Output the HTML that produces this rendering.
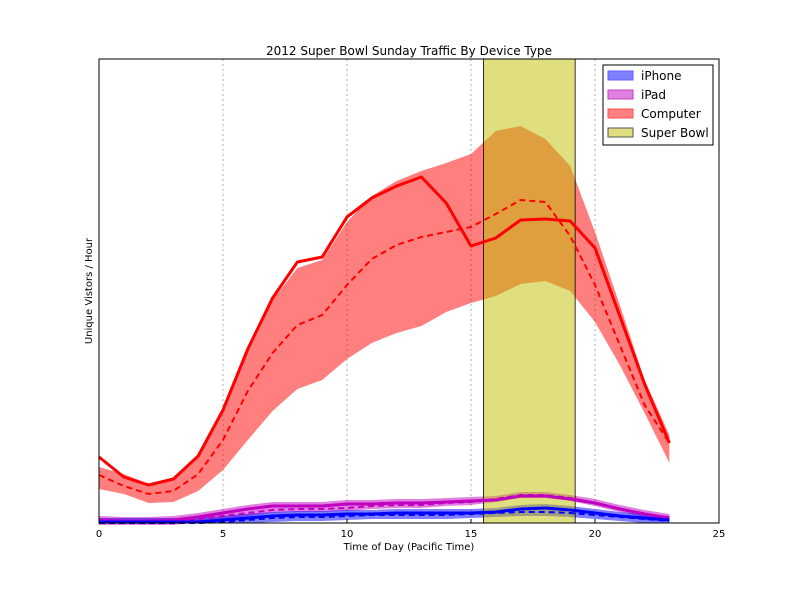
<!DOCTYPE html>
<html><head><meta charset="utf-8"><style>
body{margin:0;background:#fff;}
svg text{font-family:"DejaVu Sans","Liberation Sans",sans-serif;}
</style></head><body>
<svg id="c" width="800" height="600" viewBox="0 0 800 600" xmlns="http://www.w3.org/2000/svg">
<rect width="800" height="600" fill="#fff"/>
<text x="409" y="55" text-anchor="middle" font-size="12">2012 Super Bowl Sunday Traffic By Device Type</text>
<text x="409" y="550" text-anchor="middle" font-size="10">Time of Day (Pacific Time)</text>
<text transform="translate(92,291) rotate(-90)" text-anchor="middle" font-size="10">Unique Vistors / Hour</text>
<g id="plot"></g>
</svg>
<script>
const hours=[0,1,2,3,4,5,6,7,8,9,10,11,12,13,14,15,16,17,18,19,20,21,22,23];
const xTicks=[0,5,10,15,20,25];
const superBowl=[15.5,19.2];
const compMain=[66,46,38,44,67,113,174,225,261,266,306,325,337,346,320,277,285,303,304,302,275,207,139,80];
const compDash=[48,37,29,32,49,83,132,170,198,208,238,264,278,286,291,296,309,323,321,287,238,178,118,80];
const compHi=[56,49,39,45,68,111,175,223,255,263,301,327,342,352,360,369,392,397,384,357,291,218,143,88];
const compLo=[34,29,20,21,32,53,83,112,134,143,164,180,190,197,211,220,227,239,242,232,201,158,110,60];
const padMain=[3,2,2,3,6,10,14,17,17,17,19,19,20,20,21,22,23,27,27,24,20,14,9,5];
const padDash=[1,1,1,1,4,7,10,13,14,14,15,17,18,18,20,21,24,28,28,25,20,14,9,5];
const phoneMain=[1,1,1,1,1,3,5,7,8,8,9,9,10,10,10,10,11,14,15,13,10,7,5,3];
const phoneDash=[0,0,0,0,0,1,3,5,6,6,7,8,8,8,8,9,10,11,11,10,8,6,4,2];
const L=99,R=719,T=59,B=523,XMAX=25,YMAX=464;
const sx=v=>L+v/XMAX*(R-L);
const sy=v=>B-v/YMAX*(B-T);
const NS='http://www.w3.org/2000/svg';
const plot=document.getElementById('plot');
function mk(tag,attrs){const e=document.createElementNS(NS,tag);for(const k in attrs)e.setAttribute(k,attrs[k]);plot.appendChild(e);return e;}
function pts(arr){return arr.map((v,i)=>sx(hours[i])+','+sy(v)).join(' ');}
function band(hi,lo){return pts(hi)+' '+lo.map((v,i)=>[sx(hours[i]),sy(v)]).reverse().map(p=>p.join(',')).join(' ');}
// grid
xTicks.forEach(t=>{if(t>0&&t<XMAX){const g=mk('line',{x1:sx(t),x2:sx(t),y1:T,y2:B,stroke:'#999','stroke-dasharray':'2,3','stroke-width':0.8});

}});
// computer band
let e=mk('polygon',{points:band(compHi,compLo),fill:'#ff0000','fill-opacity':0.5,stroke:'none'});


e=mk('polygon',{points:band(padMain.map(v=>v+4),padDash.map(v=>v-3)),fill:'#c000c0','fill-opacity':0.5});


e=mk('polygon',{points:band(phoneMain.map(v=>v+4),phoneDash.map(v=>Math.max(0,v-4))),fill:'#0000ff','fill-opacity':0.5});


// super bowl
e=mk('rect',{x:sx(superBowl[0]),y:T,width:sx(superBowl[1])-sx(superBowl[0]),height:B-T,fill:'#bfbf00','fill-opacity':0.5,stroke:'#000','stroke-width':0.8});


function line(arr,color,dash,name){const l=mk('polyline',{points:pts(arr),fill:'none',stroke:color,'stroke-width':dash?2:3,'stroke-dasharray':dash?'6,4':'none','stroke-linejoin':'round'});return l;}
e=line(compMain,'#ff0000',false);


e=line(compDash,'#ff0000',true);


e=line(padMain,'#c000c0',false);


e=line(padDash,'#c000c0',true);


e=line(phoneMain,'#0000ff',false);


e=line(phoneDash,'#0000ff',true);


// frame
e=mk('rect',{x:L,y:T,width:R-L,height:B-T,fill:'none',stroke:'#000','stroke-width':1});


xTicks.forEach(t=>{
 const tk=mk('line',{x1:sx(t),x2:sx(t),y1:B,y2:B-4,stroke:'#000'});
 
 
 const tx=mk('text',{x:sx(t),y:B+14,'text-anchor':'middle','font-size':10});
 tx.textContent=t;
 
 
});
// legend
const legNames=['iPhone','iPad','Computer','Super Bowl'];
const legColors=['#8080ff','#e080e0','#ff8080','#dfdf80'];
const legStroke=['#6060ff','#c040c0','#ff5050','#555'];
e=mk('rect',{x:603,y:65,width:110,height:80,fill:'#fff',stroke:'#000'});


legNames.forEach((n,i)=>{
 const y=71+i*19;
 const s=mk('rect',{x:608,y:y,width:25,height:9,fill:legColors[i],stroke:legStroke[i]});
 
 
 const t=mk('text',{x:641,y:y+9,'font-size':12});
 t.textContent=n;
 
 
});
</script>
</body></html>
